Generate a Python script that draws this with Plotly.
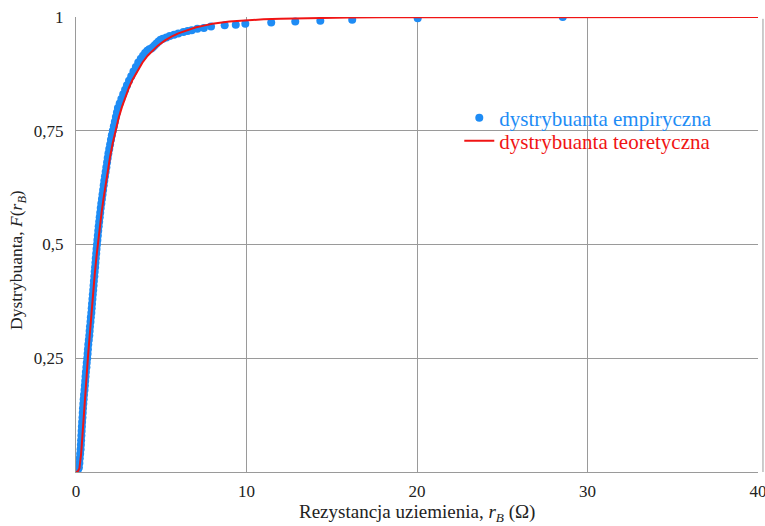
import plotly.graph_objects as go

# Empirical distribution function: sorted earthing resistances (ohm) and cumulative share
emp_r = [0.00, 0.06, 0.12, 0.17, 0.20, 0.22, 0.245, 0.27, 0.285, 0.30, 0.315, 0.33,
         0.345, 0.36, 0.38, 0.395, 0.41, 0.43, 0.45, 0.47, 0.50, 0.52, 0.54, 0.56,
         0.58, 0.61, 0.63, 0.66, 0.68, 0.70, 0.72, 0.75, 0.78, 0.80, 0.82, 0.85,
         0.87, 0.90, 0.92, 0.94, 0.965, 0.985, 1.01, 1.03, 1.05, 1.075, 1.095, 1.12,
         1.14, 1.16, 1.185, 1.205, 1.23, 1.255, 1.28, 1.305, 1.33, 1.36, 1.39, 1.42,
         1.45, 1.485, 1.52, 1.555, 1.59, 1.625, 1.66, 1.70, 1.74, 1.78, 1.82, 1.86,
         1.90, 1.95, 2.00, 2.05, 2.10, 2.16, 2.22, 2.28, 2.34, 2.40, 2.46, 2.56, 2.66,
         2.77, 2.88, 2.99, 3.11, 3.24, 3.37, 3.51, 3.65, 3.80, 3.93, 4.05, 4.18, 4.30,
         4.42, 4.52, 4.62, 4.72, 4.84, 4.96, 5.10, 5.30, 5.50, 5.75, 6.00, 6.30, 6.55,
         6.79, 7.12, 7.50, 7.92, 8.72, 9.37, 9.93, 11.45, 12.86, 14.33, 16.20, 20.04,
         28.55]
emp_F = [0.000, 0.003, 0.006, 0.010, 0.020, 0.030, 0.040, 0.050, 0.060, 0.070, 0.080,
         0.090, 0.100, 0.110, 0.120, 0.130, 0.140, 0.150, 0.160, 0.170, 0.180, 0.190,
         0.200, 0.210, 0.220, 0.230, 0.240, 0.250, 0.260, 0.270, 0.280, 0.290, 0.300,
         0.310, 0.320, 0.330, 0.340, 0.350, 0.360, 0.370, 0.380, 0.390, 0.400, 0.410,
         0.420, 0.430, 0.440, 0.450, 0.460, 0.470, 0.480, 0.490, 0.500, 0.510, 0.520,
         0.530, 0.540, 0.550, 0.560, 0.570, 0.580, 0.590, 0.600, 0.610, 0.620, 0.630,
         0.640, 0.650, 0.660, 0.670, 0.680, 0.690, 0.700, 0.710, 0.720, 0.730, 0.740,
         0.750, 0.760, 0.770, 0.780, 0.790, 0.800, 0.810, 0.820, 0.830, 0.840, 0.850,
         0.860, 0.870, 0.880, 0.890, 0.900, 0.908, 0.915, 0.921, 0.926, 0.929, 0.931,
         0.934, 0.938, 0.942, 0.946, 0.950, 0.952, 0.955, 0.958, 0.961, 0.964, 0.967,
         0.969, 0.971, 0.974, 0.976, 0.979, 0.982, 0.983, 0.985, 0.988, 0.990, 0.992,
         0.994, 0.997, 1.000]

# Fitted (theoretical) distribution function
theo_r = [0, 0.1, 0.2, 0.25, 0.3, 0.35, 0.4, 0.45, 0.5, 0.6, 0.7, 0.8, 0.9, 1.0, 1.1,
          1.2, 1.3, 1.4, 1.5, 1.6, 1.7, 1.8, 1.9, 2.0, 2.15, 2.3, 2.5, 2.7, 2.9, 3.1,
          3.3, 3.6, 3.9, 4.2, 4.5, 4.8, 5.2, 5.6, 6.0, 6.5, 7.0, 7.5, 8.0, 9.0, 10, 11,
          12, 14, 16, 18, 20, 25, 30, 40]
theo_F = [0, 0.001, 0.008, 0.02, 0.04, 0.065, 0.095, 0.125, 0.155, 0.205, 0.252, 0.298,
          0.35, 0.393, 0.435, 0.473, 0.508, 0.54, 0.57, 0.597, 0.623, 0.648, 0.671,
          0.693, 0.722, 0.748, 0.778, 0.803, 0.825, 0.844, 0.861, 0.882, 0.90, 0.915,
          0.927, 0.937, 0.948, 0.957, 0.964, 0.971, 0.977, 0.981, 0.985, 0.99, 0.993,
          0.995, 0.996, 0.998, 0.999, 0.9993, 0.9995, 0.9998, 1, 1]

x_ticks = [0, 10, 20, 30, 40]
x_labels = ["0", "10", "20", "30", "40"]
y_ticks = [0.25, 0.5, 0.75, 1]
y_labels = ["0,25", "0,5", "0,75", "1"]

x_title = "Rezystancja uziemienia, <i>r</i><sub><i>B</i></sub> (Ω)"
y_title = "Dystrybuanta, <i>F</i>(<i>r</i><sub><i>B</i></sub>)"

BLUE = "#1E8CF5"
RED = "#F01414"
GRID = "#9a9a9a"
FONT = "Liberation Serif"

fig = go.Figure()
fig.add_trace(go.Scatter(
    x=emp_r, y=emp_F, mode="markers", name="dystrybuanta empiryczna",
    marker=dict(color=BLUE, size=8, line=dict(width=0)),
    legend="legend",
))
fig.add_trace(go.Scatter(
    x=theo_r, y=theo_F, mode="lines", name="dystrybuanta teoretyczna",
    line=dict(color=RED, width=2),
    legend="legend2",
))

# white backing behind the legend block (hides grid lines, stays under the data)
fig.add_shape(type="rect", xref="paper", yref="paper",
              x0=0.566, x1=0.951, y0=0.686, y1=0.818,
              fillcolor="white", line=dict(width=0), layer="between")

# outer frame line just right of the plotting area
fig.add_shape(type="line", xref="paper", yref="paper",
              x0=1.0073, x1=1.0073, y0=0, y1=0.996,
              line=dict(color=GRID, width=1))

# axis titles
fig.add_annotation(text=x_title, xref="paper", yref="paper", x=0.5, y=-0.1187,
                   xanchor="center", yanchor="bottom", showarrow=False, borderpad=0,
                   font=dict(family=FONT, size=19, color="#222"))
fig.add_annotation(text=y_title, xref="paper", yref="paper", x=-0.085, y=0.466,
                   xanchor="center", yanchor="middle", showarrow=False, textangle=-90,
                   borderpad=0, font=dict(family=FONT, size=17.5, color="#222"))

legend_common = dict(xanchor="left", yanchor="middle", bgcolor="rgba(0,0,0,0)",
                     borderwidth=0, itemwidth=30, tracegroupgap=0)

fig.update_layout(
    width=765, height=526,
    margin=dict(l=76, r=7, t=17, b=54),
    paper_bgcolor="white", plot_bgcolor="white",
    font=dict(family=FONT, size=17, color="#222"),
    showlegend=True,
    legend=dict(x=0.562, y=0.778, font=dict(family=FONT, size=21, color=BLUE),
                **legend_common),
    legend2=dict(x=0.562, y=0.7275, font=dict(family=FONT, size=21, color=RED),
                 **legend_common),
    xaxis=dict(
        range=[0, 40], tickvals=x_ticks, ticktext=x_labels,
        showgrid=True, gridcolor=GRID, gridwidth=1,
        showline=True, linecolor=GRID, linewidth=1,
        ticks="outside", ticklen=4, tickcolor="rgba(0,0,0,0)",
        ticklabeloverflow="allow",
        zeroline=False, automargin=False,
    ),
    yaxis=dict(
        range=[0, 1], tickvals=y_ticks, ticktext=y_labels,
        showgrid=True, gridcolor=GRID, gridwidth=1,
        showline=True, linecolor=GRID, linewidth=1,
        ticks="outside", ticklen=8, tickcolor="rgba(0,0,0,0)",
        zeroline=False, automargin=False,
    ),
)

fig.write_html("out.html")
